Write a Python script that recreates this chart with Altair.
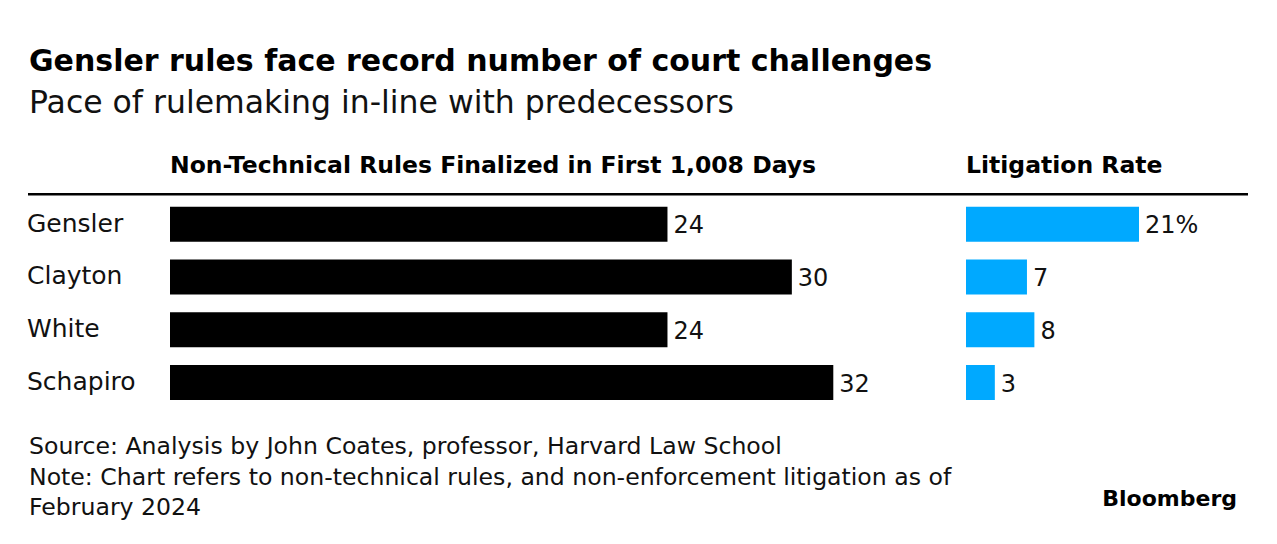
import altair as alt
import pandas as pd

# ---- data ----
names = ["Gensler", "Clayton", "White", "Schapiro"]
rules_finalized = [24, 30, 24, 32]
rules_labels = ["24", "30", "24", "32"]
litigation_rate = [21, 7.4, 8.3, 3.5]
litigation_labels = ["21%", "7", "8", "3"]

title_text = "Gensler rules face record number of court challenges"
subtitle_text = "Pace of rulemaking in-line with predecessors"
left_header = "Non-Technical Rules Finalized in First 1,008 Days"
right_header = "Litigation Rate"
footer_lines = [
    "Source: Analysis by John Coates, professor, Harvard Law School",
    "Note: Chart refers to non-technical rules, and non-enforcement litigation as of",
    "February 2024",
]
brand = "Bloomberg"

df = pd.DataFrame({
    "name": names,
    "rules": rules_finalized,
    "rules_label": rules_labels,
    "rate": litigation_rate,
    "rate_label": litigation_labels,
})

FONT = "DejaVu Sans"
W, H = 1261, 528
BLUE = "#00A9FF"

y_enc = alt.Y(
    "name:N", sort=names, axis=None,
    scale=alt.Scale(domain=names, range=[189.8, 400.9],
                    paddingInner=0.337, paddingOuter=0.1685),
)
left_scale = alt.Scale(domain=[0, 32], range=[162, 825.3], nice=False, zero=True)
right_scale = alt.Scale(domain=[0, 21], range=[958, 1131], nice=False, zero=True)

base = alt.Chart(df)

# left panel
left_bars = base.mark_bar(color="#000000").encode(
    x=alt.X("rules:Q", scale=left_scale, axis=None), y=y_enc)
left_labels = base.mark_text(align="left", baseline="middle", dx=6, dy=2,
                             fontSize=24, color="#111111").encode(
    x=alt.X("rules:Q", scale=left_scale, axis=None), y=y_enc, text="rules_label:N")
left_head = alt.Chart(pd.DataFrame({"h": [left_header]})).mark_text(
    align="left", baseline="alphabetic", fontSize=23.5, fontWeight="bold", color="#000000"
).encode(x=alt.X(datum=0, type="quantitative", scale=left_scale, axis=None),
         y=alt.value(165.3), text="h:N")
left_layer = alt.layer(left_bars, left_labels, left_head)

# right panel
right_bars = base.mark_bar(color=BLUE).encode(
    x=alt.X("rate:Q", scale=right_scale, axis=None), y=y_enc)
right_labels = base.mark_text(align="left", baseline="middle", dx=6, dy=2,
                              fontSize=24, color="#111111").encode(
    x=alt.X("rate:Q", scale=right_scale, axis=None), y=y_enc, text="rate_label:N")
right_head = alt.Chart(pd.DataFrame({"h": [right_header]})).mark_text(
    align="left", baseline="alphabetic", fontSize=23.5, fontWeight="bold", color="#000000"
).encode(x=alt.X(datum=0, type="quantitative", scale=right_scale, axis=None),
         y=alt.value(165.3), text="h:N")
right_layer = alt.layer(right_bars, right_labels, right_head)

# category names
name_text = base.mark_text(align="left", baseline="middle", dy=-0.5,
                           fontSize=25, color="#111111").encode(
    x=alt.value(19), y=y_enc, text="name:N")

one = pd.DataFrame({"a": [0]})

header_rule = alt.Chart(one).mark_rule(color="#000000", strokeWidth=2.5).encode(
    x=alt.value(20), x2=alt.value(1240), y=alt.value(186.3))

title_mark = alt.Chart(one).mark_text(
    text=title_text, align="left", baseline="alphabetic", fontSize=30,
    fontWeight="bold", color="#000000").encode(x=alt.value(21), y=alt.value(63))

subtitle_mark = alt.Chart(one).mark_text(
    text=subtitle_text, align="left", baseline="alphabetic", fontSize=31.5,
    color="#111111").encode(x=alt.value(21), y=alt.value(105))

footer_mark = alt.Chart(one).mark_text(
    text=footer_lines, align="left", baseline="alphabetic", fontSize=23.6,
    lineHeight=30.4, color="#111111").encode(x=alt.value(21), y=alt.value(446.3))

brand_mark = alt.Chart(one).mark_text(
    text=brand, align="right", baseline="alphabetic", fontSize=22,
    fontWeight="bold", color="#000000").encode(x=alt.value(1229), y=alt.value(497.7))

chart = alt.layer(
    left_layer, right_layer, name_text, header_rule,
    title_mark, subtitle_mark, footer_mark, brand_mark,
).resolve_scale(x="independent").properties(
    width=W, height=H,
    autosize=alt.AutoSizeParams(type="none"),
    padding=0,
).configure(font=FONT, background="#ffffff").configure_view(stroke=None)

chart.save("out.html", embed_options={"renderer": "svg", "actions": False})
